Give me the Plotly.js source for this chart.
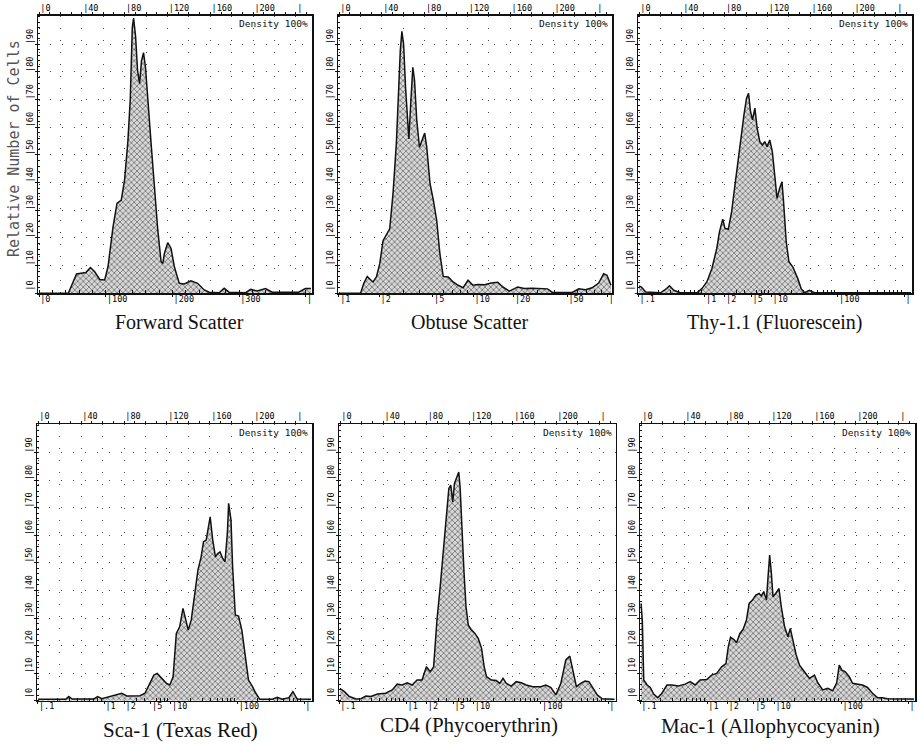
<!DOCTYPE html>
<html><head><meta charset="utf-8">
<script src="https://cdn.plot.ly/plotly-3.0.1.min.js"></script>
<style>html,body{margin:0;padding:0;background:#fff}#chart{width:918px;height:745px}</style>
</head><body><div id="chart"></div>
<script>
// ---------------- DATA ----------------
const panelTitles = ["Forward Scatter","Obtuse Scatter","Thy-1.1 (Fluorescein)","Sca-1 (Texas Red)","CD4 (Phycoerythrin)","Mac-1 (Allophycocyanin)"];
const yAxisTitle = "Relative Number of Cells";
const densityLabel = "Density 100%";

// channel (0-255, top axis) and relative number of cells
const fwdChannel = [0,27.3,35.0,39.7,43.7,48.0,52.0,56.7,61.3,64.4,69.1,72.8,76.8,79.9,83.0,85.2,87.1,88.3,90.2,92.0,93.9,95.7,97.6,99.4,101.6,104.7,107.8,110.9,114.0,115.6,117.1,120.2,123.3,126.4,131.0,135.7,141.9,148.1,154.3,158.9,168.2,172.9,177.5,193.0,197.7,203.8,211.6,217.8,242.6,248.8,254];
const fwdCount   = [0,0,7.0,7.2,7.5,9.3,7.8,5.0,4.8,9.6,24,32.5,33.7,41,55,70,96,99.5,92.7,80.6,75.8,84,87,81.8,68.6,54,38.5,22.9,11.4,10.8,14.4,18.3,16.2,9.6,3.6,3.4,4.5,3.6,1.2,0.4,0.2,1.8,0.4,0.2,1.4,0.8,1.7,0.4,0.4,1.7,1.7];

const obtChannel = [0,20.1,23.2,26.3,29.4,31.8,34.9,38.0,41.1,44.2,47.3,50.4,53.5,55.6,57.2,58.7,60.3,62.1,64.0,65.2,67.1,68.9,70.5,72.6,75.1,78.2,80.0,81.9,85.0,88.1,91.2,94.2,97.3,102.0,106.6,111.2,115.9,120.5,125.1,129.8,136.0,142.1,148.3,153.0,159.1,166.9,173.0,180.8,186.9,194.7,199.3,217.8,224.0,230.2,236.4,242.6,247.2,250.3,254];
const obtCount   = [0,0,3.7,6.1,4.9,4.1,5.9,10.7,19,21,23.3,36,54,73,87.7,94.7,90,74.5,62.5,55.8,69.7,81.7,77,62.5,52.8,56.4,57.9,52.8,39.6,33.6,26.4,14.3,6.1,5.9,4.1,2.9,2.0,4.7,2.9,3.2,3.1,3.7,4.0,2.3,0.8,2.3,1.7,1.8,1.8,1.6,0.3,0.3,1.6,1.3,2.0,3.7,7.1,6.5,2.9];

const thyChannel = [0,2.2,6.2,20.1,24.7,28.4,32.4,38.6,54.1,58.7,63.3,68.0,72.6,75.1,78.2,80.3,83.4,86.5,89.6,92.7,95.8,98.0,100.4,102.3,104.1,106.0,108.2,110.3,112.8,115.3,117.4,119.6,122.1,124.5,126.7,128.9,131.3,133.5,135.0,137.5,140.0,143.7,148.3,151.4,154.5,159.1,163.8,254];
const thyCount   = [2.7,2.2,0.5,0.2,1.4,2.7,1.1,0.2,0.2,1.7,4.1,8.9,16.2,22.2,26.8,23.4,23.2,29.5,39.1,48.8,57.2,64.5,70.5,72.3,65.7,62.7,66.9,59.7,54.8,53.6,54.8,53,55.4,51.2,42.8,34.3,37.9,40.3,33.1,18.6,11.4,9.5,5.3,1.7,0.2,1.1,0.2,0.2];

const scaChannel = [0,25.6,28.6,31.7,51.7,55.4,59.4,67.1,73.3,77.9,82.5,87.2,94.9,99.5,104.1,107.8,110.9,114.9,119.5,122.6,125.7,128.7,131.8,134.9,137.4,139.8,142.6,145.7,148.8,151.8,154.0,156.5,158.6,160.2,162.6,165.1,167.2,169.4,171.9,174.0,176.2,177.4,179.6,181.1,183.6,186.6,189.7,192.8,195.9,199.6,202.7,206.4,218.1,222.7,227.3,233.5,237.2,241.2,254];
const scaCount   = [0.5,0.5,1.5,0.6,0.6,1.5,0.7,1.5,2.2,2.7,1.7,1.7,1.8,2.7,6.3,9.3,9.9,8.1,6.3,5.7,8.7,24.4,26.8,33.5,29.3,25.6,29.3,38.9,47.4,52.2,57.7,58.3,63.1,66.7,58.3,52.2,53.4,54,51.6,50.4,60.7,71.6,65.5,48.6,31.1,30.7,25.6,16,7.5,5.1,2.7,0.5,0.5,1.2,0.5,1.1,3.3,0.6,0.5];

const cd4Channel = [0,4.0,8.6,14.7,19.3,23.9,28.5,34.6,42.2,48.3,52.9,57.5,62.1,66.7,71.3,75.9,79.9,83.5,86.6,89.7,92.7,95.8,98.8,100.7,102.5,104.3,105.9,108.0,109.9,111.1,112.9,114.8,116.6,118.7,121.8,124.8,127.9,131.0,133.4,135.6,140.1,144.7,147.8,150.9,153.9,158.5,163.1,167.7,172.3,178.4,186.0,190.6,195.2,199.8,204.4,209.0,212.7,215.7,218.8,222.8,226.7,230.4,233.5,238.1,242.7,254];
const cd4Count   = [4.4,3.3,1.5,0.6,0.7,1.7,1.5,2.4,2.7,3.9,6.0,5.7,6.5,5.7,7.5,7.5,12.3,10.5,12.3,29.3,41.4,54.7,70.4,77,78.2,72.1,78.8,81,83,77.6,60.7,46.2,34.1,27.4,25.6,24.4,22.6,19,12.3,8.7,7.5,7.3,6.3,8.1,6.3,5.3,6.9,6.5,5.7,5.1,5.1,5.7,4.8,2.1,6.3,14.8,16.2,11.1,5.1,6.3,7.1,6.9,5.1,2.1,0.7,0.5];

const macChannel = [0,1.2,2.5,5.6,8.6,11.7,15.4,19.4,24.1,28.7,34.9,41.0,45.7,50.3,54.9,61.1,65.7,70.4,75.0,79.0,81.2,83.3,86.4,88.9,92.0,95.0,98.1,100.6,103.7,106.8,109.9,112.0,114.2,116.7,118.2,119.7,121.3,122.8,125.3,128.4,130.5,133.6,136.7,138.9,141.3,144.4,147.5,152.1,156.8,161.4,164.5,169.1,173.7,178.4,182.1,184.5,187.0,190.1,193.8,196.9,201.5,206.1,210.8,215.4,220.0,224.7,229.3,254];
const macCount   = [35.3,28.7,7.5,5.7,4.8,2.4,1.1,2.7,5.7,5.7,5.3,6.0,6.9,5.7,7.5,7.7,9.3,9.9,12.3,13.5,19.6,23,22.2,21,24.4,25.9,29.3,35.3,36.5,38.3,38.9,38,39.6,36.5,45,52.8,46.2,37.7,38.9,40.7,34.1,26.8,23.2,26.2,22,16.6,12.9,10.5,8.1,9.3,6.5,3.9,4.5,3.6,6.5,12.9,11.1,10.5,8.7,6.3,6.0,5.7,4.8,2.7,1.1,1.1,0.7,0.6];

// tick labels
const channelTickVals = [0,20,40,60,80,100,120,140,160,180,200,220,240];
const channelTickText = ["|0","","|40","","|80","","|120","","|160","","|200","","|"];
const countTickVals = [0,10,20,30,40,50,60,70,80,90];
const countTickText = ["|0","|10","|20","|30","|40","|50","|60","|70","|80","|90"];
const linTickVals = [0,100,200,300,400];
const linTickText = ["|0","|100","|200","|300","|"];
const obtTickVals = [1,2,5,10,20,50,100];
const obtTickText = ["|1","|2","|5","|10","|20","|50","|"];
const logTickVals = [0.1,1,2,5,10,100,1000];
const logTickText = ["|.1","|1","|2","|5","|10","|100","|"];
const logMinorVals = [0.2,0.3,0.4,0.5,0.6,0.7,0.8,0.9,3,4,6,7,8,9,20,30,40,50,60,70,80,90,200,300,400,500,600,700,800,900];

// ---------------- LAYOUT CONFIG ----------------
const W = 918, H = 745;
const panels = [
  {ch: fwdChannel, n: fwdCount, box:[38,312,15.5,293.3], type:'linear', range:[-1.5,409.5], tv:linTickVals, tt:linTickText, minor:{dtick:20}},
  {ch: obtChannel, n: obtCount, box:[338,612,15.5,293.3], type:'log', range:[-0.007,2.033], tv:obtTickVals, tt:obtTickText, minor:{tickvals:[3,4,6,7,8,9,30,40,60,70,80,90]}},
  {ch: thyChannel, n: thyCount, box:[638,912,15.5,293.3], type:'log', range:[-1.005,3.116], tv:logTickVals, tt:logTickText, minor:{tickvals:logMinorVals}},
  {ch: scaChannel, n: scaCount, box:[37,312,424,700.7], type:'log', range:[-1.01,3.12], tv:logTickVals, tt:logTickText, minor:{tickvals:logMinorVals}},
  {ch: cd4Channel, n: cd4Count, box:[339,615.5,424,700.7], type:'log', range:[-1.0,3.11], tv:logTickVals, tt:logTickText, minor:{tickvals:logMinorVals}},
  {ch: macChannel, n: macCount, box:[640,915,424,700.7], type:'log', range:[-1.0,3.1], tv:logTickVals, tt:logTickText, minor:{tickvals:logMinorVals}}
];
const titlePos = [[179,322],[470,322],[775,322],[180,730],[469,725],[770,726]];

const mono = 'DejaVu Sans Mono';
const tickFont = {family: mono, size: 8.5, color:'#000'};
const ink = '#111';
const gridStyle = {gridcolor:'#444', gridwidth:1, griddash:'1px,11px'};

const data = [];
const layout = {
  width: W, height: H, margin:{l:0,r:0,t:0,b:0},
  paper_bgcolor:'#fff', plot_bgcolor:'rgba(0,0,0,0)',
  showlegend:false, hovermode:false, annotations:[]
};
const axId = (p, n) => n === 1 ? p : p + n;
const axKey = (p, n) => n === 1 ? p + 'axis' : p + 'axis' + n;

panels.forEach((p, i) => {
  const bx = 2*i+1, tx = 2*i+2, yy = i+1;
  const [l, r, t, b] = p.box;
  const xd = [l/W, r/W], yd = [1-b/H, 1-t/H];

  // empty carrier trace so the base (bottom-axis) subplot exists
  data.push({type:'scatter', mode:'lines', x:[], y:[], xaxis:axId('x', bx), yaxis:axId('y', yy), hoverinfo:'skip'});

  data.push({
    type:'scatter', mode:'lines', x:p.ch, y:p.n,
    xaxis:axId('x', tx), yaxis:axId('y', yy),
    fill:'tozeroy',
    fillcolor:'#c8c8c8',
    fillpattern:{shape:'x', size:4, solidity:0.35, fgcolor:'#6a6a6a', bgcolor:'#d8d8d8'},
    line:{color:ink, width:1.5}, hoverinfo:'skip'
  });

  layout[axKey('x', bx)] = {
    domain: xd, anchor:axId('y', yy), type:p.type, range:p.range, autorange:false,
    tickmode:'array', tickvals:p.tv, ticktext:p.tt, tickangle:0,
    ticks:'outside', ticklen:2, tickcolor:ink,
    ticklabelposition:'outside right', ticklabelstandoff:-3, tickfont:tickFont,
    showline:true, linecolor:ink, linewidth:1.5,
    showgrid:false, zeroline:false,
    minor: Object.assign({ticks:'inside', ticklen:3, tickcolor:ink, showgrid:false}, p.minor)
  };
  layout[axKey('x', tx)] = Object.assign({
    overlaying:axId('x', bx), side:'top', anchor:axId('y', yy), range:[-1,255], autorange:false,
    tickmode:'array', tickvals:channelTickVals, ticktext:channelTickText, tickangle:0,
    ticks:'outside', ticklen:2, tickcolor:ink,
    ticklabelposition:'outside right', tickfont:tickFont,
    showline:true, linecolor:ink, linewidth:1.5,
    showgrid:true, zeroline:false,
    minor:{dtick:10, ticks:'outside', ticklen:2, tickcolor:ink, showgrid:false}
  }, gridStyle);
  layout[axKey('y', yy)] = Object.assign({
    domain: yd, anchor:axId('x', bx), range:[0,100.4], autorange:false,
    tickmode:'array', tickvals:countTickVals, ticktext:countTickText,
    tickangle:-90, ticklabelposition:'outside top',
    ticks:'outside', ticklen:2, tickcolor:ink, tickfont:tickFont,
    showline:true, mirror:true, linecolor:ink, linewidth:1.5,
    showgrid:true, zeroline:false,
    minor:{dtick:2, ticks:'inside', ticklen:2, tickcolor:ink, showgrid:false}
  }, gridStyle);

  layout.annotations.push({
    text: densityLabel, xref:axId('x', bx)+' domain', yref:axId('y', yy)+' domain',
    x:1, y:1, xanchor:'right', yanchor:'top', xshift:-2, yshift:-1,
    showarrow:false, font:{family:mono, size:9.5, color:ink}
  });
  layout.annotations.push({
    text: panelTitles[i], xref:'paper', yref:'paper',
    x: titlePos[i][0]/W, y: 1-titlePos[i][1]/H, xanchor:'center', yanchor:'middle',
    showarrow:false, font:{family:'Liberation Serif', size: i<3 ? 20 : 21, color:'#111'}
  });
});

layout.annotations.push({
  text: yAxisTitle, xref:'paper', yref:'paper', x:14/W, y:1-149/H,
  xanchor:'center', yanchor:'middle', textangle:-90, showarrow:false,
  font:{family:mono, size:15, color:'#555'}
});

Plotly.newPlot('chart', data, layout, {staticPlot:true, displayModeBar:false});
</script>
</body></html>
